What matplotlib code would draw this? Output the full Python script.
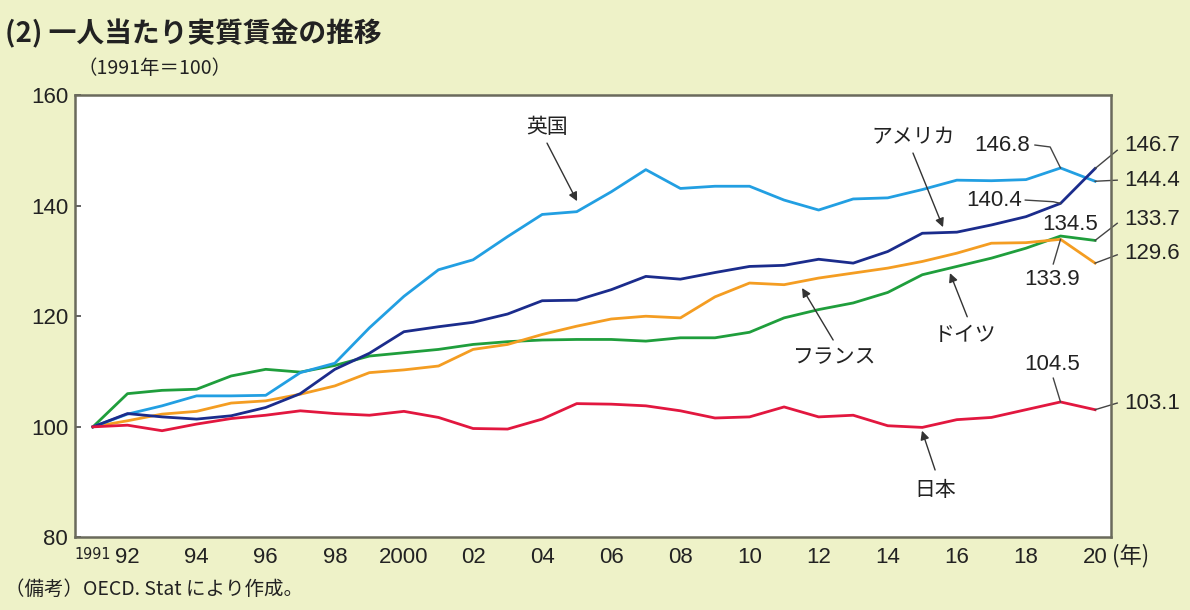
import matplotlib
matplotlib.use("Agg")
import matplotlib.pyplot as plt
from matplotlib import font_manager

# index, 1991 = 100
years = list(range(1991, 2021))
uk = [100, 102.3, 103.8, 105.6, 105.6, 105.7, 109.8, 111.5, 117.9, 123.6,
      128.4, 130.2, 134.4, 138.4, 138.9, 142.5, 146.5, 143.1, 143.5, 143.5,
      141.0, 139.2, 141.2, 141.4, 142.9, 144.6, 144.5, 144.7, 146.8, 144.4]
usa = [100, 102.4, 101.8, 101.4, 102.0, 103.5, 106.0, 110.4, 113.3, 117.2,
       118.1, 118.9, 120.4, 122.8, 122.9, 124.8, 127.2, 126.7, 127.9, 129.0,
       129.2, 130.3, 129.6, 131.7, 135.0, 135.2, 136.5, 138.0, 140.4, 146.7]
france = [100, 101.1, 102.3, 102.8, 104.3, 104.7, 105.9, 107.4, 109.8, 110.3,
          111.0, 114.0, 114.9, 116.7, 118.2, 119.5, 120.0, 119.7, 123.5, 126.0,
          125.7, 126.9, 127.8, 128.7, 129.9, 131.4, 133.2, 133.3, 133.9, 129.6]
germany = [100, 106.0, 106.6, 106.8, 109.2, 110.4, 109.9, 111.1, 112.8, 113.4,
           114.0, 114.9, 115.4, 115.7, 115.8, 115.8, 115.5, 116.1, 116.1, 117.1,
           119.7, 121.2, 122.4, 124.3, 127.5, 129.0, 130.5, 132.3, 134.5, 133.7]
japan = [100, 100.3, 99.3, 100.5, 101.5, 102.1, 102.9, 102.4, 102.1, 102.8,
         101.7, 99.7, 99.6, 101.4, 104.2, 104.1, 103.8, 102.9, 101.6, 101.8,
         103.6, 101.8, 102.1, 100.2, 99.9, 101.3, 101.7, 103.1, 104.5, 103.1]

xtick_years = [1991, 1992, 1994, 1996, 1998, 2000, 2002, 2004, 2006, 2008,
               2010, 2012, 2014, 2016, 2018, 2020]
xtick_labels = ["1991", "92", "94", "96", "98", "2000", "02", "04", "06", "08",
                "10", "12", "14", "16", "18", "20"]
ytick_values = [80, 100, 120, 140, 160]

BG = "#eef2c8"
INK = "#333333"
JP = ["Noto Sans CJK JP", "DejaVu Sans"]

plt.rcParams["font.family"] = ["Liberation Sans", "Noto Sans CJK JP", "DejaVu Sans"]

fig = plt.figure(figsize=(11.9, 6.1), dpi=100, facecolor=BG)
ax = fig.add_axes([0.063, 0.1189, 0.8706, 0.7254])
ax.set_facecolor("white")

lines = [
    (germany, "#1f9e3c"),
    (france, "#f49d22"),
    (uk, "#229fe2"),
    (usa, "#1b2c8c"),
    (japan, "#e2173f"),
]
for vals, col in lines:
    ax.plot(years, vals, color=col, lw=2.0, solid_joinstyle="round")

ax.set_xlim(1990.48, 2020.46)
ax.set_ylim(80, 160)
ax.set_xticks(xtick_years, xtick_labels)
ax.set_yticks(ytick_values)
ax.tick_params(axis="x", length=0, pad=7, labelsize=16, labelcolor="#222222")
ax.tick_params(axis="y", direction="in", length=4.5, width=1.3, color="#555555",
               pad=5, labelsize=16, labelcolor="#222222")

# the first year label is squeezed in the original
first = ax.get_xticklabels()[0]
fonts = font_manager.fontManager.ttflist
names = {f.name for f in fonts}
narrow = [f for f in fonts if f.name in ("DejaVu Sans", "Liberation Sans")
          and f.stretch in ("condensed", "semi-condensed", 375)
          and f.weight in ("normal", "regular", "book", 400)
          and f.style == "normal"]
if "Liberation Sans Narrow" in names:
    first.set_family("Liberation Sans Narrow")
    first.set_fontsize(14)
elif narrow:
    first.set_fontproperties(font_manager.FontProperties(fname=narrow[0].fname, size=11.5))
else:
    first.set_fontsize(11.5)

for s in ax.spines.values():
    s.set_color("#6a6a5c")
    s.set_linewidth(1.8)


def arrow(tail, tip):
    ax.annotate("", xy=tip, xytext=tail, annotation_clip=False,
                arrowprops=dict(arrowstyle="-|>", color=INK, lw=1.0,
                                mutation_scale=13, shrinkA=0, shrinkB=0))


def leader(xs, ys):
    ax.plot(xs, ys, color="#444444", lw=1.0, clip_on=False)


def label(x, y, s, ha="center", jp=False):
    ax.text(x, y, s, ha=ha, va="center", fontsize=15 if jp else 16,
            color="#222222", family=JP if jp else None, clip_on=False)


# country names with arrows
label(2004.14, 154.2, "英国", jp=True)
arrow((2004.14, 151.3), (2005.01, 140.8))
label(2014.73, 152.4, "アメリカ", jp=True)
arrow((2014.73, 149.5), (2015.60, 136.1))
label(2012.48, 112.6, "フランス", jp=True)
arrow((2012.42, 115.7), (2011.52, 125.1))
label(2016.24, 116.6, "ドイツ", jp=True)
arrow((2016.30, 119.9), (2015.80, 127.8))
label(2015.37, 88.6, "日本", jp=True)
arrow((2015.37, 92.2), (2014.99, 99.3))

# 2019 values
label(2018.12, 150.95, f"{uk[-2]:.1f}", ha="right")
leader([2018.26, 2018.70, years[-2]], [150.95, 150.6, uk[-2]])
label(2017.89, 140.85, f"{usa[-2]:.1f}", ha="right")
leader([2017.98, 2018.79, years[-2]], [141.0, 140.7, usa[-2]])
label(2019.28, 136.6, f"{germany[-2]:.1f}")
label(2018.76, 126.6, f"{france[-2]:.1f}")
leader([2018.79, years[-2]], [129.45, france[-2]])
label(2018.76, 111.2, f"{japan[-2]:.1f}")
leader([2018.79, years[-2]], [108.8, japan[-2]])

# 2020 values on the right
right_x = 2020.84
for vals, ty, ly in [(usa, 150.95, 150.0), (uk, 144.45, 144.6),
                     (germany, 137.4, 136.8), (france, 131.25, 131.1),
                     (japan, 104.3, 104.3)]:
    label(right_x, ty, f"{vals[-1]:.1f}", ha="left")
    leader([years[-1], 2020.64], [vals[-1], ly])

ax.text(2020.5, 76.8, "(年)", ha="left", va="center", fontsize=16,
        color="#222222", family=JP, clip_on=False)

fig.text(0.004, 0.944, "(2) 一人当たり実質賃金の推移", ha="left", va="center",
         fontsize=20, fontweight="bold", color="#222222", family=JP)
fig.text(0.0655, 0.887, "（1991年＝100）", ha="left", va="center",
         fontsize=14, color="#222222", family=JP)
fig.text(0.004, 0.033, "（備考）OECD. Stat により作成。", ha="left", va="center",
         fontsize=14, color="#222222", family=JP)

fig.savefig("out.png", dpi=100, facecolor=BG)
